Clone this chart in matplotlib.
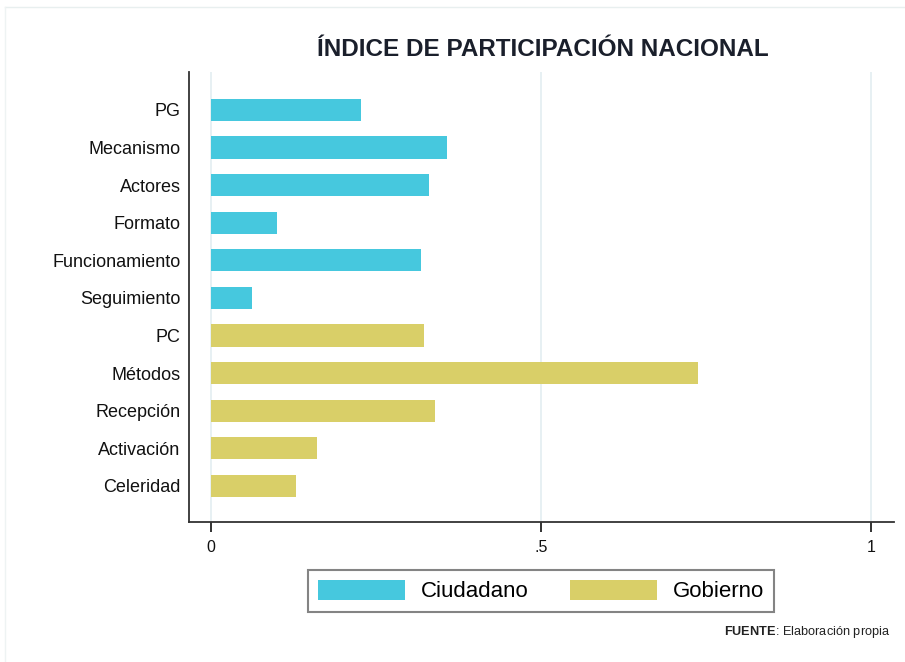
import matplotlib
matplotlib.use("Agg")
import matplotlib.pyplot as plt
from matplotlib.patches import Patch
from matplotlib.lines import Line2D

categories = ["PG", "Mecanismo", "Actores", "Formato", "Funcionamiento", "Seguimiento",
              "PC", "Métodos", "Recepción", "Activación", "Celeridad"]
values = [0.227, 0.358, 0.331, 0.100, 0.318, 0.062,
          0.323, 0.738, 0.340, 0.161, 0.129]
groups = ["Ciudadano"] * 6 + ["Gobierno"] * 5
group_colors = {"Ciudadano": "#46C8DE", "Gobierno": "#D9CF68"}
xticks = [0, 0.5, 1]
xticklabels = ["0", ".5", "1"]

plt.rcParams['font.family'] = ['Liberation Sans', 'DejaVu Sans']
plt.rcParams['mathtext.fontset'] = 'custom'
plt.rcParams['mathtext.rm'] = 'Liberation Sans'
plt.rcParams['mathtext.bf'] = 'Liberation Sans:bold'

fig = plt.figure(figsize=(9.05, 6.62), dpi=100)
ax = fig.add_axes([189/905, 1-522/662, (894-189)/905, (522-72)/662])

ypos = list(range(len(categories)))
ax.barh(ypos, values, height=0.59, color=[group_colors[g] for g in groups],
        edgecolor='none', zorder=3)
ax.set_ylim(len(categories) - 1 + 0.96, -1.01)
ax.set_xlim(-22/660, 1 + 23/660)

ax.set_yticks(ypos)
ax.set_yticklabels(categories, fontsize=13, color='#111111')
ax.tick_params(axis='y', length=0, pad=6)
ax.set_xticks(xticks)
ax.set_xticklabels(xticklabels, fontsize=11.5, color='#111111')
ax.tick_params(axis='x', length=7, width=1.3, color='#222222', pad=6)

for x in xticks:
    ax.axvline(x, color='#E3EDF1', lw=1.2, zorder=1)

for s in ['top', 'right']:
    ax.spines[s].set_visible(False)
for s in ['left', 'bottom']:
    ax.spines[s].set_color('#333333')
    ax.spines[s].set_linewidth(1.3)

fig.text(543/905, 1-49/662, "ÍNDICE DE PARTICIPACIÓN NACIONAL",
         ha='center', va='center', fontsize=17.5, fontweight='bold',
         color='#1a1f2b')

handles = [Patch(facecolor=group_colors[g], edgecolor='none') for g in ["Ciudadano", "Gobierno"]]
leg = fig.legend(handles, ["Ciudadano", "Gobierno"], loc='center',
                 bbox_to_anchor=(541/905, 1-591/662), ncol=2, fontsize=16,
                 handlelength=3.9, handleheight=1.0, handletextpad=0.7,
                 columnspacing=1.9, borderpad=0.45, frameon=True, fancybox=False)
leg.get_frame().set_edgecolor('#666666')
leg.get_frame().set_linewidth(1.5)

fig.text(890/905, 1-632/662, r"$\mathbf{FUENTE}$: Elaboración propia",
         ha='right', va='center', fontsize=9.2, color='#222222')

# faint outer frame lines
fig.add_artist(Line2D([5/905, 1], [1-7/662, 1-7/662], color='#E8EFEF', lw=1))
fig.add_artist(Line2D([5/905, 5/905], [0, 1-7/662], color='#EEF3F3', lw=1))

fig.savefig("out.png", dpi=100, facecolor='white')
